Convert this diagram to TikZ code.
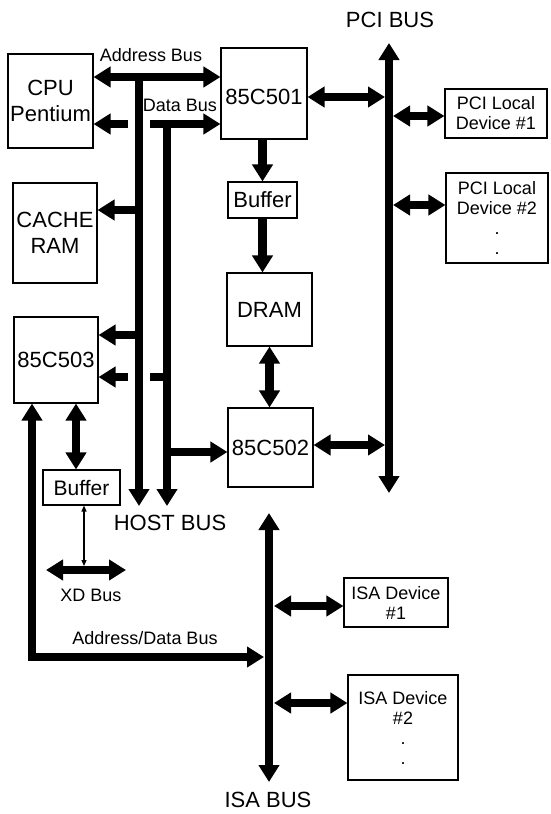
\documentclass[tikz,border=0pt]{standalone}
\usepackage{fontspec}
\setmainfont{Liberation Sans}
\usetikzlibrary{arrows.meta}

\begin{document}
\begin{tikzpicture}[x=1pt,y=-1pt,>={Triangle[length=17pt,width=20pt]},every node/.style={align=center,inner sep=0pt},bigtxt/.style={font=\fontsize{22}{26}\selectfont},smalltxt/.style={font=\fontsize{18}{20}\selectfont},chip/.style={draw,line width=1.1pt,bigtxt},devbox/.style={draw,line width=1.1pt,smalltxt},bus/.style={line width=8.5pt},thinbus/.style={line width=1.2pt,{Triangle[length=6pt,width=5pt]}-{Triangle[length=6pt,width=5pt]}}]
\useasboundingbox (0,0) rectangle (550,814);
% left column and host side
\node[chip,minimum width=85pt,minimum height=94pt] (cpu) at (50.5,101) {CPU\\Pentium}; \node[chip,minimum width=84pt,minimum height=100pt] (cache) at (55,233) {CACHE\\RAM}; \node[chip,minimum width=84pt,minimum height=86pt] (n503) at (56,360) {85C503}; \node[chip,font=\fontsize{21}{24}\selectfont,minimum width=77pt,minimum height=35pt] (buf2) at (81.5,487.5) {Buffer};
% center column
\node[chip,minimum width=86pt,minimum height=91pt,text height=22pt] (n501) at (264,93.5) {85C501}; \node[chip,minimum width=69pt,minimum height=36pt] (buf1) at (262.5,200) {Buffer}; \node[chip,minimum width=85pt,minimum height=73pt] (dram) at (269.5,309.5) {DRAM}; \node[chip,minimum width=85pt,minimum height=79pt] (n502) at (270.5,447.5) {85C502};
% devices
\node[devbox,minimum width=102pt,minimum height=49pt] (pci1) at (496,113.5) {PCI Local\\Device \#1}; \node[devbox,minimum width=102pt,minimum height=90pt] (pci2) at (497,218) {PCI Local\\Device \#2\\.\\.}; \node[devbox,minimum width=104pt,minimum height=49pt] (isa1) at (396,602.5) {ISA Device\\\#1}; \node[devbox,minimum width=110pt,minimum height=105pt] (isa2) at (403,727.5) {ISA Device\\\#2\\.\\.};
% labels
\node[bigtxt] (pcilbl) at (390,20) {PCI BUS}; \node[bigtxt] (hostlbl) at (170,523) {HOST BUS}; \node[bigtxt] (isalbl) at (268,800) {ISA BUS}; \node[smalltxt] (adlbl) at (151,55) {Address Bus}; \node[smalltxt] (dtlbl) at (180,105) {Data Bus}; \node[smalltxt] (xdlbl) at (91,595) {XD Bus}; \node[smalltxt] (adtlbl) at (145,638) {Address/Data Bus};
% bus points
\coordinate (abtop) at (139,77); \coordinate (abend) at (139,506); \coordinate (dbtop) at (167,124); \coordinate (dbend) at (167,506); \coordinate (pcitop) at (389,43); \coordinate (pcibot) at (389,493); \coordinate (isatop) at (269,513); \coordinate (isabot) at (269,782); \coordinate (xdl) at (46,570); \coordinate (xdr) at (126,570); \coordinate (adcorner) at (32,657); \coordinate (adend) at (264,657);
% host bus
\draw[bus,<->] (cpu.east |- abtop) -- (n501.west |- abtop); \draw[bus,->] (abtop) -- (abend);
\draw[bus,->] (128,124) -- (cpu.east |- dbtop); \draw[bus,->] (150,124) -- (n501.west |- dbtop); \draw[bus,->] (dbtop) -- (dbend);
\draw[bus,->] (139,210) -- (cache.east |- 0,210); \draw[bus,->] (139,335) -- (n503.east |- 0,335); \draw[bus] (167,377) -- (150,377); \draw[bus,->] (128,377) -- (n503.east |- 0,377); \draw[bus,->] (167,452) -- (n502.west |- 0,452);
% memory path
\draw[bus,->] (buf1.north |- n501.south) -- (buf1.north); \draw[bus,->] (buf1.south) -- (buf1.south |- dram.north); \draw[bus,<->] (dram.south) -- (dram.south |- n502.north);
% pci bus
\draw[bus,<->] (pcibot) -- (pcitop); \draw[bus,<->] (n501.east |- 0,97) -- (385,97); \draw[bus,<->] (n502.east |- 0,445) -- (385,445); \draw[bus,<->] (393,116) -- (pci1.west |- 0,116); \draw[bus,<->] (393,205) -- (pci2.west |- 0,205);
% isa and xd bus
\draw[bus,<->] (isatop) -- (isabot); \draw[bus,<->] (274,606) -- (isa1.west |- 0,606); \draw[bus,<->] (274,703) -- (isa2.west |- 0,703);
\draw[bus,<->] (n503.south -| adcorner) -- (adcorner) -- (adend);
\draw[bus,<->] (n503.south -| 76,0) -- (buf2.north -| 76,0); \draw[bus,<->] (xdl) -- (xdr); \draw[thinbus] (buf2.south -| 84,0) -- (84,566);
\end{tikzpicture}
\end{document}
